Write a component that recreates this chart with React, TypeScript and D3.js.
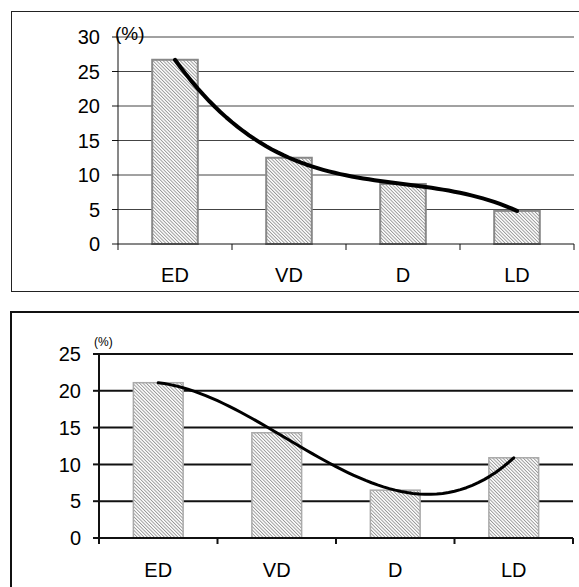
import * as d3 from 'd3';
import { useRef, useEffect } from 'react';

const categories = ['ED', 'VD', 'D', 'LD'];

// upper chart
const topValues = [26.7, 12.5, 8.7, 4.8];
const topTicks = [0, 5, 10, 15, 20, 25, 30];

// lower chart
const bottomValues = [21.1, 14.3, 6.5, 10.9];
const bottomTicks = [0, 5, 10, 15, 20, 25];

// 3rd order polynomial trend through the bar values (same as a spreadsheet poly trendline on 4 points)
function polyTrend(values: number[]) {
    return (t: number) => d3.sum(values, (v, i) => {
        let w = v;
        values.forEach((_, j) => { if (j !== i) w *= (t - j) / (i - j); });
        return w;
    });
}

export default function App() {
    const ref = useRef<SVGSVGElement>(null);

    useEffect(() => {
        const svg = d3.select(ref.current);
        svg.selectAll('*').remove();

        // hatch fill for the bars
        const defs = svg.append('defs');
        defs.append('pattern')
            .attr('id', 'hatch')
            .attr('patternUnits', 'userSpaceOnUse')
            .attr('width', 2.4)
            .attr('height', 6)
            .attr('patternTransform', 'rotate(-45)')
            .call(p => {
                p.append('rect').attr('width', 2.4).attr('height', 6).attr('fill', '#fff');
                p.append('line')
                    .attr('x1', 0.5).attr('y1', 0)
                    .attr('x2', 0.5).attr('y2', 6)
                    .attr('stroke', '#777')
                    .attr('stroke-width', 0.8);
            });

        // frames
        svg.append('rect')
            .attr('x', 11.5).attr('y', 11.5)
            .attr('width', 600).attr('height', 280)
            .attr('fill', 'none')
            .attr('stroke', '#222')
            .attr('stroke-width', 1);
        svg.append('rect')
            .attr('x', 11).attr('y', 312)
            .attr('width', 600).attr('height', 300)
            .attr('fill', 'none')
            .attr('stroke', '#111')
            .attr('stroke-width', 2);

        function drawChart(opts: {
            values: number[]; ticks: number[]; yMax: number;
            left: number; right: number; y0: number; yTop: number;
            pad: number; gridColor: string; gridWidth: number;
            barStroke: string; barStrokeWidth: number; curveWidth: number;
            unitSize: number; unitX: number; unitY: number; labelY: number;
        }) {
            const g = svg.append('g');
            const x = d3.scaleBand<string>()
                .domain(categories)
                .range([opts.left, opts.right])
                .paddingInner(opts.pad)
                .paddingOuter(opts.pad / 2);
            const y = d3.scaleLinear().domain([0, opts.yMax]).range([opts.y0, opts.yTop]);
            const step = x.step();
            const font = '"Liberation Sans", Arial, sans-serif';

            // gridlines
            g.selectAll('line.grid')
                .data(opts.ticks.filter(t => t > 0))
                .enter()
                .append('line')
                .attr('x1', opts.left).attr('x2', opts.right)
                .attr('y1', d => y(d)).attr('y2', d => y(d))
                .attr('stroke', opts.gridColor)
                .attr('stroke-width', opts.gridWidth);

            // y tick marks + labels
            g.selectAll('line.ytick')
                .data(opts.ticks)
                .enter()
                .append('line')
                .attr('x1', opts.left - 6).attr('x2', opts.left)
                .attr('y1', d => y(d)).attr('y2', d => y(d))
                .attr('stroke', '#111')
                .attr('stroke-width', opts.gridWidth);
            g.selectAll('text.ylab')
                .data(opts.ticks)
                .enter()
                .append('text')
                .attr('x', opts.left - 18)
                .attr('y', d => y(d))
                .attr('dy', '0.36em')
                .attr('text-anchor', 'end')
                .style('font-family', font)
                .style('font-size', '20px')
                .text(d => d);

            // bars
            g.selectAll('rect.bar')
                .data(opts.values)
                .enter()
                .append('rect')
                .attr('x', (d, i) => x(categories[i])!)
                .attr('y', d => y(d))
                .attr('width', x.bandwidth())
                .attr('height', d => opts.y0 - y(d))
                .attr('fill', 'url(#hatch)')
                .attr('stroke', opts.barStroke)
                .attr('stroke-width', opts.barStrokeWidth);

            // axes
            g.append('line')
                .attr('x1', opts.left).attr('x2', opts.left)
                .attr('y1', opts.yTop).attr('y2', opts.y0)
                .attr('stroke', '#111')
                .attr('stroke-width', opts.gridWidth);
            g.append('line')
                .attr('x1', opts.left).attr('x2', opts.right)
                .attr('y1', opts.y0).attr('y2', opts.y0)
                .attr('stroke', '#111')
                .attr('stroke-width', opts.gridWidth);
            g.selectAll('line.xtick')
                .data(d3.range(categories.length + 1))
                .enter()
                .append('line')
                .attr('x1', i => opts.left + i * step)
                .attr('x2', i => opts.left + i * step)
                .attr('y1', opts.y0).attr('y2', opts.y0 + 6)
                .attr('stroke', '#111')
                .attr('stroke-width', opts.gridWidth);
            g.selectAll('text.xlab')
                .data(categories)
                .enter()
                .append('text')
                .attr('x', d => x(d)! + x.bandwidth() / 2)
                .attr('y', opts.labelY)
                .attr('text-anchor', 'middle')
                .style('font-family', font)
                .style('font-size', '20px')
                .text(d => d);

            // trend curve
            const f = polyTrend(opts.values);
            const centre = (t: number) => opts.left + step / 2 + t * step;
            const ts = d3.range(0, categories.length - 1 + 1e-9, 0.05);
            const line = d3.line<number>()
                .x(t => centre(t))
                .y(t => y(f(t)));
            g.append('path')
                .attr('d', line(ts))
                .attr('fill', 'none')
                .attr('stroke', '#000')
                .attr('stroke-width', opts.curveWidth)
                .attr('stroke-linecap', 'round')
                .attr('stroke-linejoin', 'round');

            // unit label
            g.append('text')
                .attr('x', opts.unitX)
                .attr('y', opts.unitY)
                .attr('dy', '0.36em')
                .style('font-family', font)
                .style('font-size', `${opts.unitSize}px`)
                .text('(%)');
        }

        drawChart({
            values: topValues, ticks: topTicks, yMax: 30,
            left: 118, right: 574, y0: 244, yTop: 37,
            pad: 0.6, gridColor: '#444', gridWidth: 1,
            barStroke: '#888', barStrokeWidth: 2, curveWidth: 4,
            unitSize: 19, unitX: 115, unitY: 33, labelY: 282
        });
        drawChart({
            values: bottomValues, ticks: bottomTicks, yMax: 25,
            left: 99, right: 573, y0: 538, yTop: 354,
            pad: 0.58, gridColor: '#111', gridWidth: 2,
            barStroke: '#aaa', barStrokeWidth: 1.5, curveWidth: 3,
            unitSize: 12, unitX: 94, unitY: 342, labelY: 577
        });
    }, []);

    return (
        <svg ref={ref} width={579} height={587}
            style={{ position: 'absolute', left: 0, top: 0, background: '#fff' }}></svg>
    );
}
